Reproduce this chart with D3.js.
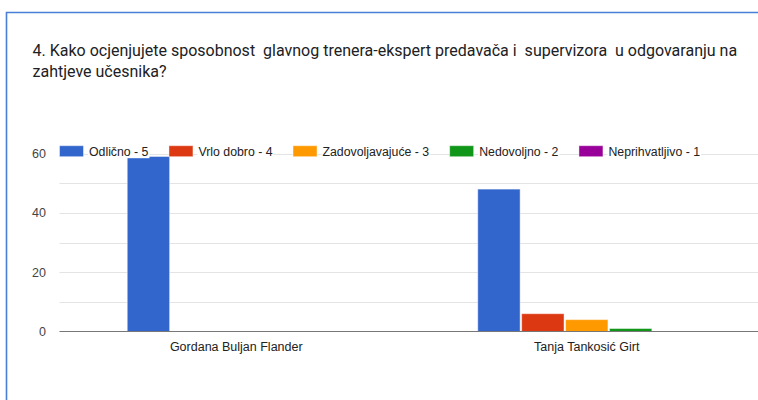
<!DOCTYPE html>
<html>
<head>
<meta charset="utf-8">
<script src="https://cdn.jsdelivr.net/npm/d3@7"></script>
<style>
  html, body { margin: 0; padding: 0; background: #fff; }
  svg { display: block; }
</style>
</head>
<body>
<script>
// Survey question 4: ratings of the two lead trainers
const titleLines = [
  "4. Kako ocjenjujete sposobnost  glavnog trenera-ekspert predavača i  supervizora  u odgovaranju na",
  "zahtjeve učesnika?"
];
const categories = ["Gordana Buljan Flander", "Tanja Tankosić Girt"];
const seriesNames = ["Odlično - 5", "Vrlo dobro - 4", "Zadovoljavajuće - 3", "Nedovoljno - 2", "Neprihvatljivo - 1"];
const seriesColors = ["#3366cc", "#dc3912", "#ff9900", "#109618", "#990099"];
const odlicno = [59, 48];
const vrloDobro = [0, 6];
const zadovoljavajuce = [0, 4];
const nedovoljno = [0, 1];
const neprihvatljivo = [0, 0];
const yTickValues = [0, 20, 40, 60];
const yGridValues = [0, 10, 20, 30, 40, 50, 60];

const seriesValues = [odlicno, vrloDobro, zadovoljavajuce, nedovoljno, neprihvatljivo];

const W = 758, H = 400;
const plot = { left: 59.5, right: 760.5, top: 153.5, bottom: 331.5 };

const svg = d3.select("body").append("svg")
  .attr("width", W).attr("height", H);

// Card frame
svg.append("path")
  .attr("d", `M6.5,${H + 2} V12.5 H${W + 2}`)
  .attr("fill", "none")
  .attr("stroke", "#4a7fd8")
  .attr("stroke-width", 1.6);

// Title
const title = svg.append("text")
  .attr("font-family", "Roboto, 'Noto Sans', sans-serif")
  .attr("font-size", 16)
  .attr("fill", "#202124")
  .style("white-space", "pre");
titleLines.forEach((line, i) => {
  title.append("tspan").attr("x", 32.5).attr("y", 56 + i * 20.5).text(line);
});

// Scales
const y = d3.scaleLinear().domain([0, 60]).range([plot.bottom, plot.top]);
const x0 = d3.scaleBand().domain(categories)
  .range([plot.left + 1.5, plot.right + 1.5])
  .paddingInner(0.378).paddingOuter(0.189);
const x1 = d3.scaleBand().domain(seriesNames)
  .range([0, x0.bandwidth()])
  .paddingInner(0.035).paddingOuter(0);
const color = d3.scaleOrdinal().domain(seriesNames).range(seriesColors);

// Gridlines
svg.append("g")
  .selectAll("line")
  .data(yGridValues.filter(v => v !== 0))
  .join("line")
  .attr("x1", plot.left).attr("x2", W)
  .attr("y1", d => Math.round(y(d)) + 0.5).attr("y2", d => Math.round(y(d)) + 0.5)
  .attr("stroke", "#e4e4e4").attr("stroke-width", 1);

// Y axis labels
const yAxis = d3.axisLeft(y).tickValues(yTickValues).tickSize(0).tickPadding(0);
const yg = svg.append("g")
  .attr("transform", `translate(46,0)`)
  .call(yAxis);
yg.select(".domain").remove();
yg.selectAll("text")
  .attr("font-family", "Arial, 'Liberation Sans', sans-serif")
  .attr("font-size", 12.5)
  .attr("fill", "#444");

// Bars
const rows = categories.map((c, ci) => ({
  category: c,
  values: seriesNames.map((s, si) => ({ series: s, value: seriesValues[si][ci] }))
}));

svg.append("g")
  .selectAll("g")
  .data(rows)
  .join("g")
  .attr("transform", d => `translate(${x0(d.category)},0)`)
  .selectAll("rect")
  .data(d => d.values.filter(v => v.value > 0))
  .join("rect")
  .attr("x", d => x1(d.series))
  .attr("width", x1.bandwidth())
  .attr("y", d => y(d.value))
  .attr("height", d => y(0) - y(d.value))
  .attr("fill", d => color(d.series))
  .attr("stroke", "#ffffff")
  .attr("stroke-opacity", 0.45)
  .attr("stroke-width", 1);

// Baseline
svg.append("line")
  .attr("x1", plot.left).attr("x2", W)
  .attr("y1", y(0)).attr("y2", y(0))
  .attr("stroke", "#777").attr("stroke-width", 1.2);

// Category labels
const xAxis = d3.axisBottom(x0).tickSize(0).tickPadding(0);
const xg = svg.append("g")
  .attr("transform", `translate(0,${y(0) + 19})`)
  .call(xAxis);
xg.select(".domain").remove();
xg.selectAll("text")
  .attr("dy", 0)
  .attr("font-family", "Arial, 'Liberation Sans', sans-serif")
  .attr("font-size", 12.5)
  .attr("fill", "#222");

// Legend (drawn over the top gridline, items laid out left to right)
const legend = svg.append("g").attr("transform", `translate(${plot.left},0)`);
const swW = 24, swH = 11, legendY = 151.2;
let cursor = 0;
seriesNames.forEach((name, i) => {
  const g = legend.append("g").attr("transform", `translate(${cursor},0)`);
  g.append("rect")
    .attr("x", 0).attr("y", legendY - swH / 2)
    .attr("width", swW).attr("height", swH)
    .attr("fill", color(name))
    .attr("stroke", "#fff").attr("stroke-opacity", 0.45);
  const bg = g.append("rect").attr("fill", "#fff");
  const t = g.append("text")
    .attr("x", swW + 5.5).attr("y", legendY + 4.4)
    .attr("font-family", "Arial, 'Liberation Sans', sans-serif")
    .attr("font-size", 12.3)
    .attr("fill", "#222")
    .text(name);
  const tw = t.node().getComputedTextLength();
  bg.attr("x", swW + 4.5).attr("y", legendY - 7).attr("width", tw + 2).attr("height", 14);
  cursor += swW + 5.5 + tw + 20.5;
});
</script>
</body>
</html>
